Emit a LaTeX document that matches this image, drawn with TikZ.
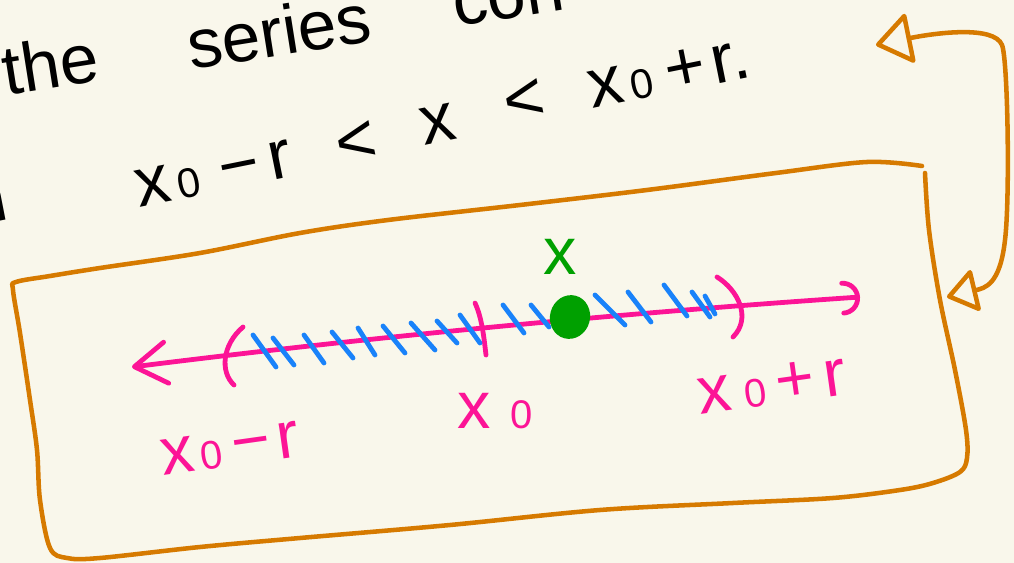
\documentclass[tikz,border=0pt]{standalone}
\usepackage{fontspec}
\setmainfont{Liberation Sans}
\usetikzlibrary{arrows.meta,shapes.geometric}
\definecolor{paper}{RGB}{249,247,235}
\definecolor{penorange}{RGB}{214,122,0}
\definecolor{penpink}{RGB}{252,20,150}
\definecolor{penblue}{RGB}{25,130,250}
\definecolor{pengreen}{RGB}{0,160,0}
\newcommand\subz{\kern0.1em\scalebox{0.6}{0}}
\begin{document}
\begin{tikzpicture}[x=0.75pt,y=-0.75pt, line cap=round, line join=round,
  boxline/.style={draw=penorange, line width=3.4pt},
  hatch/.style={draw=penblue, line width=3.6pt},
  pinkline/.style={draw=penpink, line width=3.6pt},
  blacktext/.style={text=black, font=\fontsize{52}{60}\selectfont, inner sep=0pt, anchor=base west},
  pinktext/.style={text=penpink, font=\fontsize{50}{60}\selectfont, inner sep=0pt, anchor=base west},
]
\fill[paper] (0,0) rectangle (1014,563);
\useasboundingbox (0,0) rectangle (1014,563);
\clip (0,0) rectangle (1014,563);

% ---- black handwriting text ----
\node[blacktext, rotate=9] (w1) at (6,96) {the};
\node[blacktext, rotate=9] (w2) at (191,70) {series};
\node[blacktext, rotate=9] (w3) at (456,27) {con};
\node[blacktext, rotate=11, anchor=base east] (w0) at (11,219) {n};
\node[blacktext, rotate=11.4] (t1) at (139,208) {x\subz\kern.3em−\kern.15em r};
\node[blacktext, rotate=11.4] (t2) at (340,168) {<};
\node[blacktext, rotate=11.4] (t3) at (424,146) {x};
\node[blacktext, rotate=11.4] (t4) at (508,126) {<};
\node[blacktext, rotate=11.4] (t5) at (592,109) {x\subz\kern.2em+\kern.1em r.};

% ---- orange box ----
\draw[boxline] plot[smooth, tension=0.55] coordinates {
  (925,173) (929,230) (940,300) (955,370) (966,430)
  (967,458) (960,472) (933,483) (900,490) (833,498) (733,503) (600,510)
  (450,525) (300,538) (200,547) (100,558) (67,558) (50,548) (40,500)
  (37,450) (30,400) (20,333) (13,290) (16,282) (50,276) (100,268)
  (200,253) (300,233) (388,220) (520,205) (647,190) (776,173) (867,162) (922,166)};

% ---- orange connector ----
\coordinate (textR) at (876,45);
\coordinate (boxR) at (947,297);
\draw[boxline, {Triangle[open,round,length=28pt,width=40pt]}-{Triangle[open,round,length=24pt,width=34pt]}]
  (textR) .. controls (935,33) and (994,25) .. (1002,45)
  .. controls (1008,60) and (1010,200) .. (1005,240)
  .. controls (1000,285) and (985,288) .. (boxR);

% ---- number line ----
\coordinate (NL) at (132,367);
\coordinate (NR) at (860,297);
\draw[pinkline, {Straight Barb[round,length=24pt,width=31pt]}-{Arc Barb[round,length=13pt,width=26pt]}]
  (NL) .. controls (371,337) and (611,314) .. (NR);
\draw[pinkline] (243,327) .. controls (222,345) and (220,372) .. (234,385);
\draw[pinkline] (475,303) .. controls (482,318) and (484,338) .. (486,355);
\draw[pinkline] (717,277) .. controls (738,290) and (752,318) .. (733,337);

% ---- blue hatches ----
\foreach \a/\b/\c/\d in {253/335/276/367, 273/338/294/365, 304/335/324/363,
  332/332/353/358, 358/328/375/355, 383/326/405/353, 411/323/435/350,
  437/321/457/343, 460/315/480/343, 503/305/524/333, 531/305/549/327,
  595/295/625/325, 628/292/651/322, 664/285/687/316, 692/292/710/317,
  705/296/715/314}
  \draw[hatch] (\a,\b) -- (\c,\d);

% ---- green point ----
\node[ellipse, fill=pengreen, minimum width=30pt, minimum height=33pt, inner sep=0pt, rotate=-15] (pt) at (570,317) {};
\node[text=pengreen, font=\fontsize{50}{60}\selectfont, inner sep=0pt, anchor=base] (xlab) at (560,274) {x};

% ---- pink labels ----
\node[pinktext, rotate=8] (lab1) at (163,476) {x\subz\kern.15em−\kern.1em r};
\node[pinktext] (lab2) at (457,428) {x\kern.2em\subz};
\node[pinktext, rotate=8] (lab3) at (700,415) {x\kern.1em\subz\kern.15em+\kern.15em r};
\end{tikzpicture}
\end{document}
